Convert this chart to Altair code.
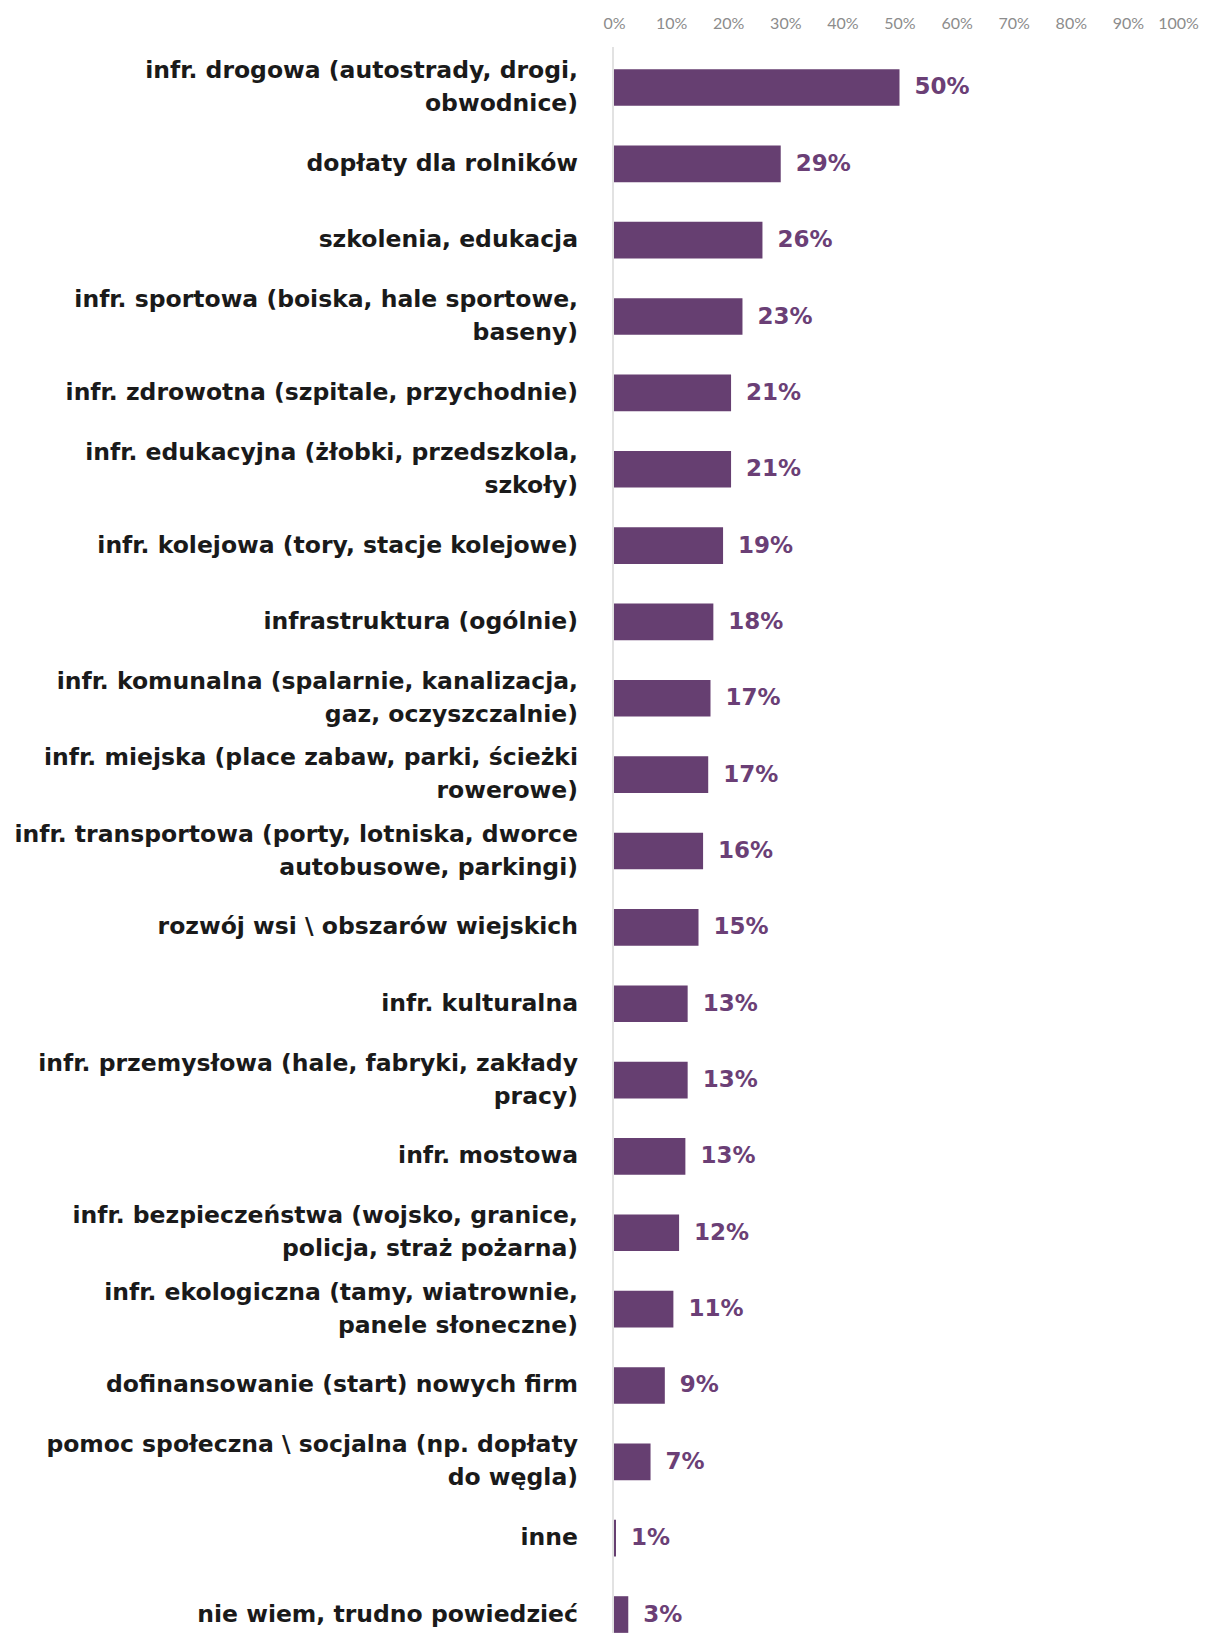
import altair as alt
import pandas as pd

categories = [
    "infr. drogowa (autostrady, drogi,\nobwodnice)",
    "dopłaty dla rolników",
    "szkolenia, edukacja",
    "infr. sportowa (boiska, hale sportowe,\nbaseny)",
    "infr. zdrowotna (szpitale, przychodnie)",
    "infr. edukacyjna (żłobki, przedszkola,\nszkoły)",
    "infr. kolejowa (tory, stacje kolejowe)",
    "infrastruktura (ogólnie)",
    "infr. komunalna (spalarnie, kanalizacja,\ngaz, oczyszczalnie)",
    "infr. miejska (place zabaw, parki, ścieżki\nrowerowe)",
    "infr. transportowa (porty, lotniska, dworce\nautobusowe, parkingi)",
    "rozwój wsi \\ obszarów wiejskich",
    "infr. kulturalna",
    "infr. przemysłowa (hale, fabryki, zakłady\npracy)",
    "infr. mostowa",
    "infr. bezpieczeństwa (wojsko, granice,\npolicja, straż pożarna)",
    "infr. ekologiczna (tamy, wiatrownie,\npanele słoneczne)",
    "dofinansowanie (start) nowych firm",
    "pomoc społeczna \\ socjalna (np. dopłaty\ndo węgla)",
    "inne",
    "nie wiem, trudno powiedzieć",
]
values = [50.0, 29.2, 26.0, 22.5, 20.5, 20.5, 19.1, 17.4, 16.9, 16.5, 15.6,
          14.8, 12.9, 12.9, 12.5, 11.4, 10.4, 8.9, 6.4, 0.35, 2.5]
value_labels = ["50%", "29%", "26%", "23%", "21%", "21%", "19%", "18%", "17%",
                "17%", "16%", "15%", "13%", "13%", "13%", "12%", "11%", "9%",
                "7%", "1%", "3%"]
tick_values = [0, 10, 20, 30, 40, 50, 60, 70, 80, 90, 100]

PURPLE = "#663f71"
LABEL_PURPLE = "#6b3f76"
FONT = "DejaVu Sans"
LINE_H = 33

df = pd.DataFrame({"cat": categories, "value": values, "label": value_labels})
df["multi"] = df["cat"].str.contains("\n")

W = 571
H = 1580

xscale = alt.Scale(domain=[0, 100], nice=False)
yscale = alt.Scale(domain=categories, range=[0, 1608], paddingInner=0.52, paddingOuter=0.29)

xaxis = alt.Axis(orient="top", values=tick_values, labelExpr="datum.value + '%'",
                 grid=False, domain=False, ticks=False, title=None,
                 labelFont="Lato", labelFontSize=16, labelColor="#8c8c8c",
                 labelPadding=16, labelFlush=False,
                 labelOffset={"condition": {"test": "datum.value == 100", "value": -7},
                              "value": 0})

base = alt.Chart(df)

bars = base.mark_bar(color=PURPLE).encode(
    x=alt.X("value:Q", scale=xscale, axis=xaxis),
    y=alt.Y("cat:N", scale=yscale, axis=None),
)

vals = base.mark_text(align="left", baseline="middle", dx=15, fontSize=23,
                      fontWeight="bold", font=FONT, color=LABEL_PURPLE).encode(
    x=alt.X("value:Q", scale=xscale),
    y=alt.Y("cat:N", scale=yscale, axis=None),
    text="label:N",
)

cat_style = dict(align="right", baseline="middle", lineBreak="\n", lineHeight=LINE_H,
                 fontSize=23.5, fontWeight="bold", font=FONT, color="#1a1a1a")

cats_single = base.transform_filter("!datum.multi").mark_text(**cat_style).encode(
    x=alt.value(-36),
    y=alt.Y("cat:N", scale=yscale, axis=None),
    text="cat:N",
)

cats_multi = base.transform_filter("datum.multi").mark_text(dy=-LINE_H / 2, **cat_style).encode(
    x=alt.value(-36),
    y=alt.Y("cat:N", scale=yscale, axis=None),
    text="cat:N",
)

rule = alt.Chart(pd.DataFrame({"v": [0]})).mark_rule(color="#d9d9d9", strokeWidth=1.5).encode(
    x=alt.value(-1), y=alt.value(0), y2=alt.value(1610)
)

chart = alt.layer(rule, bars, vals, cats_single, cats_multi).properties(
    width=W, height=H,
    autosize=alt.AutoSizeParams(type="none"),
    padding={"left": 606, "top": 39, "right": 16, "bottom": 6},
).configure_view(stroke=None)

chart.save("out.html", embed_options={"renderer": "svg", "actions": False})
